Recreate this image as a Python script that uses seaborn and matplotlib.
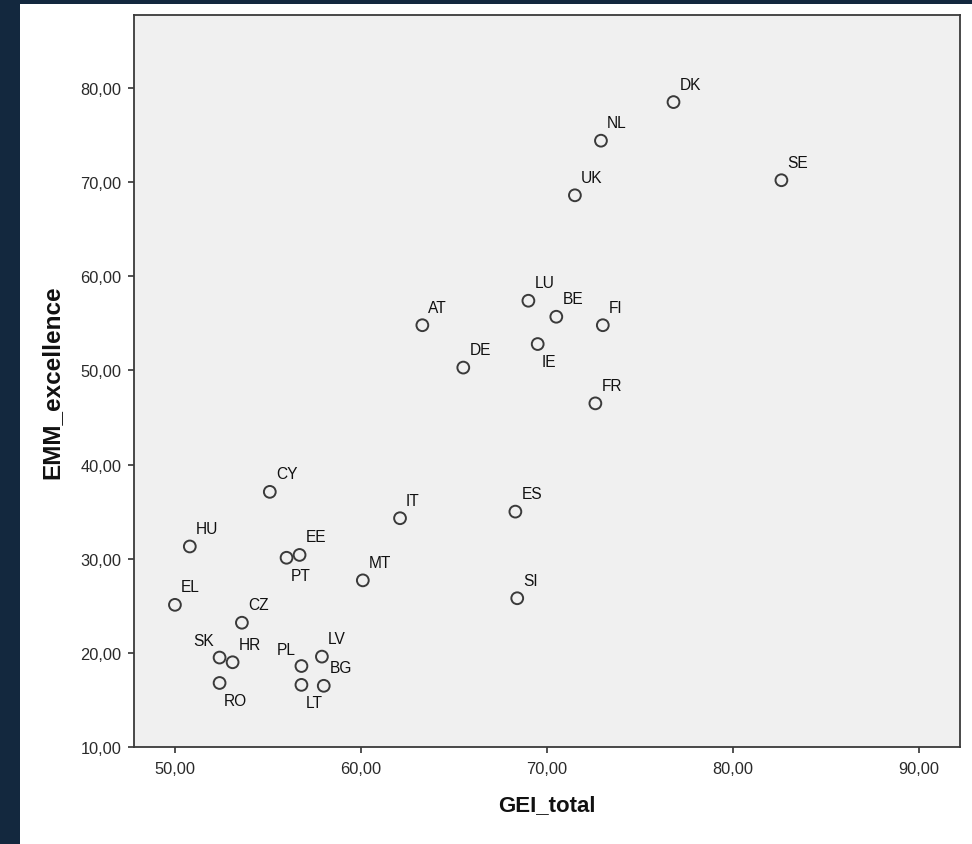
import matplotlib
matplotlib.use("Agg")
import matplotlib.pyplot as plt
import seaborn as sns
import pandas as pd
from matplotlib.patches import Rectangle

# ---- data ----
countries = ["DK", "NL", "UK", "SE", "LU", "BE", "FI", "AT", "DE", "IE", "FR",
             "CY", "HU", "PT", "EE", "MT", "IT", "ES", "SI", "EL", "CZ", "SK",
             "HR", "RO", "PL", "LV", "LT", "BG"]
gei_total = [76.8, 72.9, 71.5, 82.6, 69.0, 70.5, 73.0, 63.3, 65.5, 69.5, 72.6,
             55.1, 50.8, 56.0, 56.7, 60.1, 62.1, 68.3, 68.4, 50.0, 53.6, 52.4,
             53.1, 52.4, 56.8, 57.9, 56.8, 58.0]
emm_excellence = [78.5, 74.4, 68.6, 70.2, 57.4, 55.7, 54.8, 54.8, 50.3, 52.8, 46.5,
                  37.1, 31.3, 30.1, 30.4, 27.7, 34.3, 35.0, 25.8, 25.1, 23.2, 19.5,
                  19.0, 16.8, 18.6, 19.6, 16.6, 16.5]
x_ticks = [50, 60, 70, 80, 90]
x_tick_labels = ["50,00", "60,00", "70,00", "80,00", "90,00"]
y_ticks = [10, 20, 30, 40, 50, 60, 70, 80]
y_tick_labels = ["10,00", "20,00", "30,00", "40,00", "50,00", "60,00", "70,00", "80,00"]

# label placement style (ur = upper right, lr = lower right, ul = upper left)
placement = {"IE": "lr", "PT": "lr", "RO": "lr", "LT": "lr", "PL": "ul", "SK": "ul"}

df = pd.DataFrame({"country": countries, "GEI_total": gei_total,
                   "EMM_excellence": emm_excellence})

sns.set_theme(style="white")
plt.rcParams["font.family"] = ["Liberation Sans", "DejaVu Sans"]

W, H = 972, 845
fig = plt.figure(figsize=(W / 100, H / 100), dpi=100, facecolor="#13283e")
fig.patches.append(Rectangle((20 / W, 0), (W - 20) / W, (H - 5) / H,
                             transform=fig.transFigure, facecolor="white",
                             edgecolor="none", zorder=-10))
ax = fig.add_axes([134 / W, 97 / H, 826 / W, 732 / H])
ax.set_facecolor("#f0f0f0")

sns.scatterplot(data=df, x="GEI_total", y="EMM_excellence", ax=ax,
                marker="o", s=72, facecolor="none", edgecolor="#3a3a3a",
                linewidth=1.4, zorder=3)

for c, xv, yv in zip(countries, gei_total, emm_excellence):
    p = placement.get(c, "ur")
    if p == "ur":
        off, ha = (4.3, 13.0), "left"
    elif p == "lr":
        off, ha = (3.0, -12.5), "left"
    else:
        off, ha = (-3.8, 12.0), "right"
    ax.annotate(c, (xv, yv), xytext=off, textcoords="offset points",
                ha=ha, va="center", fontsize=11.2, color="#111111", zorder=4)

ax.set_xlim(47.8, 92.2)
ax.set_ylim(10, 87.75)
ax.set_xticks(x_ticks)
ax.set_xticklabels(x_tick_labels)
ax.set_yticks(y_ticks)
ax.set_yticklabels(y_tick_labels)
ax.tick_params(axis="both", direction="out", length=4, width=1.2,
               color="#333333", labelsize=11.8, labelcolor="#2a2a2a")
ax.tick_params(axis="x", pad=6)
ax.tick_params(axis="y", pad=5)
ax.xaxis.set_ticks_position("bottom")
ax.yaxis.set_ticks_position("left")
for s in ax.spines.values():
    s.set_color("#3a3a3a")
    s.set_linewidth(1.3)
    s.set_visible(True)

ax.set_xlabel("GEI_total", fontsize=16, fontweight="bold", color="#111111",
              labelpad=13)
ax.set_ylabel("EMM_excellence", fontsize=17.5, fontweight="bold", color="#111111",
              labelpad=12)
ax.grid(False)

fig.savefig("out.png", dpi=100, facecolor=fig.get_facecolor())
